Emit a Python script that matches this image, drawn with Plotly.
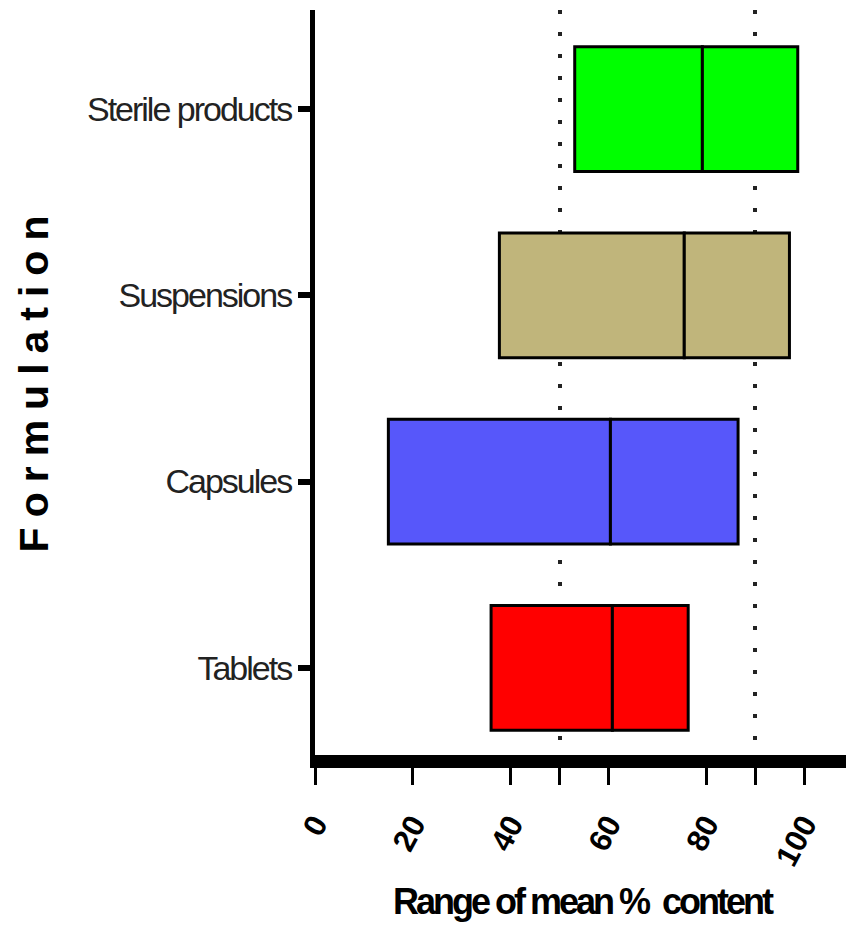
import plotly.graph_objects as go

categories = ["Tablets", "Capsules", "Suspensions", "Sterile products"]
range_min = [36.0, 15.0, 37.7, 53.1]
range_median = [60.8, 60.4, 75.5, 79.2]
range_max = [76.3, 86.5, 97.0, 98.7]
colors = ["#FF0000", "#5757FA", "#C0B57B", "#00FF00"]
x_ticks = [0, 20, 40, 60, 80, 100]
ref_lines = [50, 90]

sans = "Liberation Sans, Arial, sans-serif"

fig = go.Figure()
fig.add_trace(go.Bar(
    y=categories, x=[m - lo for m, lo in zip(range_median, range_min)], base=range_min,
    orientation="h", width=0.67,
    marker=dict(color=colors, line=dict(color="black", width=3)),
    showlegend=False, hoverinfo="skip"))
fig.add_trace(go.Bar(
    y=categories, x=[hi - m for hi, m in zip(range_max, range_median)], base=range_median,
    orientation="h", width=0.67,
    marker=dict(color=colors, line=dict(color="black", width=3)),
    showlegend=False, hoverinfo="skip"))

fig.update_layout(
    width=846, height=931,
    margin=dict(l=307, r=0, t=2, b=184),
    plot_bgcolor="white", paper_bgcolor="white",
    barmode="overlay",
    xaxis=dict(
        range=[0, 110.2], tickmode="array", tickvals=x_ticks,
        ticktext=[str(v) for v in x_ticks],
        tickangle=-62, ticks="outside", ticklen=17, tickwidth=3, tickcolor="black",
        ticklabelstandoff=9,
        tickfont=dict(family=sans, size=31, color="black", weight="bold"),
        showline=True, linecolor="black", linewidth=13,
        showgrid=False, zeroline=False,
        minor=dict(tickmode="array", tickvals=ref_lines, showgrid=True,
                   gridcolor="#222222", griddash="4px,18px", gridwidth=4,
                   ticks="outside", ticklen=17, tickwidth=3, tickcolor="black"),
    ),
    yaxis=dict(
        range=[-0.468, 3.532], tickmode="array", tickvals=categories,
        ticktext=['<span style="letter-spacing:-2px">%s</span>' % c for c in categories],
        categoryorder="array", categoryarray=categories,
        ticks="outside", ticklen=12, tickwidth=6, tickcolor="black",
        tickfont=dict(family=sans, size=34, color="#222222"),
        showline=True, linecolor="black", linewidth=5,
        showgrid=False, zeroline=False,
    ),
    annotations=[
        dict(text='<span style="letter-spacing:10px">Formulation</span>', textangle=-90,
             xref="paper", yref="paper",
             x=-0.522, y=0.505, xanchor="center", yanchor="middle", showarrow=False,
             font=dict(family=sans, size=41, color="black", weight="bold")),
        dict(text='<span style="letter-spacing:-3px">Range of mean %  content</span>',
             xref="paper", yref="paper",
             x=0.499, y=-0.197, xanchor="center", yanchor="middle", showarrow=False,
             font=dict(family=sans, size=36, color="black", weight="bold")),
    ],
)

fig.write_html("out.html")
